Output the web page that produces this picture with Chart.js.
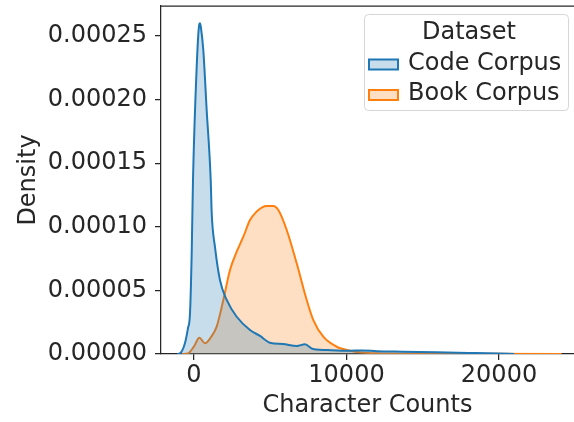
<!DOCTYPE html>
<html>
<head>
<meta charset="utf-8">
<script src="https://cdn.jsdelivr.net/npm/chart.js@4/dist/chart.umd.min.js"></script>
<style>
  body { margin: 0; background: #fff; }
  #wrap { width: 574px; height: 422px; }
</style>
</head>
<body>
<div id="wrap"><canvas id="kde" width="574" height="422"></canvas></div>
<script>
// KDE curves
let codeCounts = [-1100, -918, -590, -400, -262, -150, -66, 177, 330, 393, 450, 610, 830, 1095, 1160, 1377, 1705, 2144, 2800, 3672, 4328, 4984, 5836, 6734, 7279, 7803, 9000, 10230, 11000, 12000, 13700, 15900, 18000, 20000, 21000];
let codeDensity = [0, 0.0000005, 0.0000087, 0.00002, 0.000032, 0.00008, 0.000137, 0.000226, 0.000258, 0.00026, 0.000257, 0.000239, 0.000192, 0.000137, 0.000111, 0.000084, 0.000058, 0.0000425, 0.0000293, 0.0000189, 0.0000142, 0.0000089, 0.0000079, 0.0000063, 0.0000076, 0.0000039, 0.000003, 0.0000026, 0.0000028, 0.0000022, 0.0000018, 0.0000013, 0.0000008, 0.0000003, 0];

let bookCounts = [-800, -390, 0, 350, 721, 1100, 1486, 1923, 2360, 2800, 3235, 3672, 4110, 4500, 4767, 5200, 5530, 6080, 6734, 7390, 7825, 8480, 9357, 10230, 11000, 12000, 14000, 18000, 24100];
let bookDensity = [0, 0.0000005, 0.000006, 0.0000128, 0.0000084, 0.000013, 0.0000215, 0.0000425, 0.000066, 0.0000804, 0.0000922, 0.0001053, 0.000112, 0.0001155, 0.0001164, 0.0001164, 0.0001132, 0.0000975, 0.0000713, 0.0000425, 0.0000267, 0.0000136, 0.0000057, 0.0000026, 0.0000012, 0.0000005, 0.0000002, 0.0000001, 0];

let xTicks = [0, 10000, 20000];
let yTicks = [0, 0.00005, 0.0001, 0.00015, 0.0002, 0.00025];

let legendTitle = "Dataset";
let textColor = "#262626";
let fontFamily = "'DejaVu Sans', sans-serif";

function toPoints(xs, ys) {
  return xs.map((x, i) => ({ x: x, y: ys[i] }));
}

// top spine (seaborn keeps it in this style)
let topSpine = {
  id: "topSpine",
  afterDraw(chart) {
    let ctx = chart.ctx;
    let area = chart.chartArea;
    ctx.save();
    ctx.strokeStyle = textColor;
    ctx.lineWidth = 1.25;
    ctx.beginPath();
    ctx.moveTo(area.left, area.top);
    ctx.lineTo(area.right, area.top);
    ctx.stroke();
    ctx.restore();
  },
};

// matplotlib style legend box with title, inside the plot
let legendBox = {
  id: "legendBox",
  afterDraw(chart) {
    let ctx = chart.ctx;
    let area = chart.chartArea;
    let w = 204, h = 96;
    let left = area.right - 6 - w;
    let top = area.top + 8;
    ctx.save();
    ctx.fillStyle = "rgba(255,255,255,0.8)";
    ctx.strokeStyle = "#d6d6d6";
    ctx.lineWidth = 1;
    ctx.beginPath();
    ctx.roundRect(left + 0.5, top + 0.5, w, h, 4);
    ctx.fill();
    ctx.stroke();

    ctx.font = "24px " + fontFamily;
    ctx.fillStyle = textColor;
    ctx.textBaseline = "alphabetic";
    ctx.textAlign = "center";
    ctx.fillText(legendTitle, left + w / 2 + 3, top + 24.5);

    ctx.textAlign = "left";
    chart.data.datasets.forEach((ds, i) => {
      let y = top + 55.5 + i * 30.5;
      ctx.fillStyle = ds.backgroundColor;
      ctx.fillRect(left + 5, y - 10, 29, 10);
      ctx.strokeStyle = ds.borderColor;
      ctx.lineWidth = 2;
      ctx.strokeRect(left + 5, y - 10, 29, 10);
      ctx.fillStyle = textColor;
      ctx.fillText(ds.label, left + 44, y);
    });
    ctx.restore();
  },
};

new Chart(document.getElementById("kde"), {
  type: "line",
  data: {
    datasets: [
      {
        label: "Code Corpus",
        data: toPoints(codeCounts, codeDensity),
        borderColor: "#1f77b4",
        backgroundColor: "rgba(31,119,180,0.25)",
        borderWidth: 2,
        fill: "origin",
      },
      {
        label: "Book Corpus",
        data: toPoints(bookCounts, bookDensity),
        borderColor: "#ff7f0e",
        backgroundColor: "rgba(255,127,14,0.25)",
        borderWidth: 2,
        fill: "origin",
      },
    ],
  },
  options: {
    responsive: false,
    animation: false,
    devicePixelRatio: 1,
    layout: { padding: { top: 6, right: 0, left: 0, bottom: 0 } },
    elements: {
      point: { radius: 0 },
      line: { cubicInterpolationMode: "monotone" },
    },
    plugins: {
      legend: { display: false },
      tooltip: { enabled: false },
    },
    scales: {
      x: {
        type: "linear",
        min: -2164,
        max: 24918,
        afterBuildTicks: (scale) => { scale.ticks = xTicks.map((v) => ({ value: v })); },
        afterFit: (scale) => {
          scale.height = 68;
          scale.paddingLeft = 0;
          scale.paddingRight = 0;
        },
        grid: { drawOnChartArea: false, drawTicks: true, tickLength: 6, tickColor: textColor, lineWidth: 1.25 },
        border: { display: true, color: textColor, width: 1.25 },
        ticks: {
          color: textColor,
          font: { family: fontFamily, size: 24 },
          padding: 1,
          maxRotation: 0,
          callback: (v) => String(v),
        },
        title: {
          display: true,
          text: "Character Counts",
          color: textColor,
          font: { family: fontFamily, size: 24 },
          padding: { top: 0, bottom: 2 },
        },
      },
      y: {
        min: 0,
        max: 0.0002736,
        afterBuildTicks: (scale) => { scale.ticks = yTicks.map((v) => ({ value: v })); },
        afterFit: (scale) => {
          scale.width = 161;
          scale.paddingTop = 0;
          scale.paddingBottom = 0;
        },
        grid: { drawOnChartArea: false, drawTicks: true, tickLength: 6, tickColor: textColor, lineWidth: 1.25 },
        border: { display: true, color: textColor, width: 1.25 },
        ticks: {
          color: textColor,
          font: { family: fontFamily, size: 24 },
          padding: 8,
          callback: (v) => v.toFixed(5),
        },
        title: {
          display: true,
          text: "Density",
          color: textColor,
          font: { family: fontFamily, size: 24 },
          padding: { top: 14, bottom: 0 },
        },
      },
    },
  },
  plugins: [topSpine, legendBox],
});
</script>
</body>
</html>
